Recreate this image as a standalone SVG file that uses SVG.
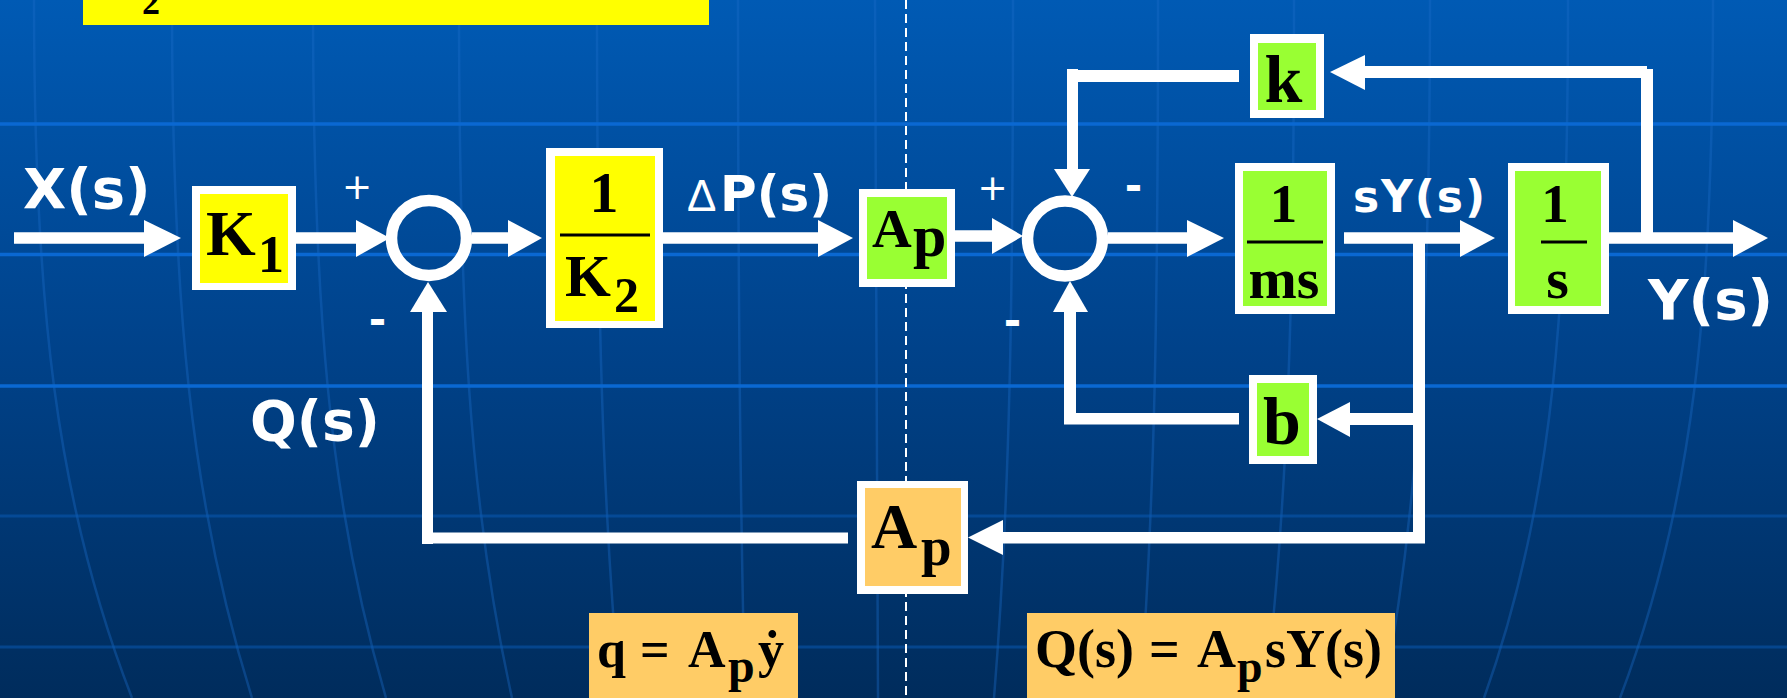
<svg xmlns="http://www.w3.org/2000/svg" width="1787" height="698" viewBox="0 0 1787 698">
<defs>
<linearGradient id="bg" x1="0" y1="0" x2="0" y2="1">
<stop offset="0" stop-color="#005ab4"/>
<stop offset="0.5" stop-color="#00428a"/>
<stop offset="1" stop-color="#002c5c"/>
</linearGradient>
<style>
.wire{fill:none;stroke:#fff;stroke-width:11.5}
.head{fill:#fff}
.frame{fill:#fff}
.yel{fill:#ffff00}
.grn{fill:#99ff33}
.org{fill:#ffcc66}
.bt{font-family:"Liberation Serif","Times New Roman",serif;font-weight:bold;fill:#000}
.lbl{font-family:"DejaVu Sans",Verdana,sans-serif;font-weight:bold;fill:#fff}
.sign{font-family:"DejaVu Sans",sans-serif;fill:#fff}
.mer{fill:none;stroke:#1a6cc8;stroke-opacity:0.38;stroke-width:2.5}
.hl{stroke:#0a68d2;stroke-width:3.5}
.hl2{stroke:#0a5cb8;stroke-opacity:0.5;stroke-width:3}
.sum{fill:none;stroke:#fff;stroke-width:11.5}
</style>
</defs>

<g id="background">
<rect x="0" y="0" width="1787" height="698" fill="url(#bg)"/>
<path class="mer" d="M34,0 C34,300 55,500 132,698"/>
<path class="mer" d="M172,0 C172,300 190,500 252,698"/>
<path class="mer" d="M313,0 C313,300 328,500 386,698"/>
<path class="mer" d="M459,0 C459,300 468,500 512,698"/>
<path class="mer" d="M597,0 C597,300 602,500 620,698"/>
<path class="mer" d="M738,0 C738,300 740,500 745,698"/>
<path class="mer" d="M875,0 C875,300 876,500 878,698"/>
<path class="mer" d="M1013,0 C1013,300 1010,500 994,698"/>
<path class="mer" d="M1158,0 C1158,300 1155,500 1140,698"/>
<path class="mer" d="M1294,0 C1294,300 1288,500 1265,698"/>
<path class="mer" d="M1430,0 C1430,300 1420,500 1383,698"/>
<path class="mer" d="M1568,0 C1568,300 1555,500 1484,698"/>
<path class="mer" d="M1713,0 C1713,300 1695,500 1620,698"/>
<line class="hl" x1="0" y1="124" x2="1787" y2="124"/>
<line class="hl" x1="0" y1="254.5" x2="1787" y2="254.5"/>
<line class="hl" x1="0" y1="386" x2="1787" y2="386"/>
<line class="hl2" x1="0" y1="516" x2="1787" y2="516"/>
<line class="hl2" x1="0" y1="647" x2="1787" y2="647"/>
<line x1="906" y1="0" x2="906" y2="698" stroke="#fff" stroke-width="2" stroke-dasharray="9 5"/>
</g>

<g id="top-equation">
<rect class="yel" x="83" y="0" width="626" height="25"/>
<text class="bt" x="142" y="14" font-size="36">2</text>
</g>

<g id="connectors">
<line class="wire" x1="14" y1="238" x2="148" y2="238"/>
<polygon class="head" points="144,220 181,238 144,257"/>
<line class="wire" x1="296" y1="238" x2="360" y2="238"/>
<polygon class="head" points="356,220 390,238 356,257"/>
<line class="wire" x1="472" y1="238" x2="512" y2="238"/>
<polygon class="head" points="508,220 542,238 508,257"/>
<line class="wire" x1="663" y1="238" x2="822" y2="238"/>
<polygon class="head" points="818,220 853,238 818,257"/>
<line class="wire" x1="955" y1="236" x2="996" y2="236"/>
<polygon class="head" points="992,218 1023,236 992,254"/>
<line class="wire" x1="1108" y1="238" x2="1191" y2="238"/>
<polygon class="head" points="1187,220 1224,238 1187,257"/>
<line class="wire" x1="1344" y1="238" x2="1464" y2="238"/>
<polygon class="head" points="1460,220 1495,238 1460,257"/>
<line class="wire" x1="1609" y1="238" x2="1737" y2="238"/>
<polygon class="head" points="1733,220 1768,238 1733,257"/>
<rect class="frame" x="1641" y="69" width="12" height="170"/>
<rect class="frame" x="1362" y="66" width="285" height="12"/>
<polygon class="head" points="1365,55 1330,72 1365,90"/>
<rect class="frame" x="1067" y="70" width="172" height="12"/>
<rect class="frame" x="1067" y="69" width="11" height="103"/>
<polygon class="head" points="1054,169 1090,169 1072,197"/>
<rect class="frame" x="1413" y="238" width="12" height="305"/>
<rect class="frame" x="1347" y="413" width="72" height="12"/>
<polygon class="head" points="1350,402 1317,419 1350,437"/>
<rect class="frame" x="1064" y="413" width="175" height="11.5"/>
<rect class="frame" x="1064" y="310" width="12" height="114"/>
<polygon class="head" points="1053,312 1070,281 1088,312"/>
<rect class="frame" x="1000" y="532" width="425" height="11.5"/>
<polygon class="head" points="1003,520 968,537.5 1003,555"/>
<rect class="frame" x="422" y="532.5" width="426" height="11"/>
<rect class="frame" x="422" y="310" width="11" height="234"/>
<polygon class="head" points="410,312 428,282 447,312"/>
</g>

<g id="sum1">
<circle class="sum" cx="429" cy="238" r="37.5"/>
<text class="sign" x="357" y="199" font-size="36" text-anchor="middle">+</text>
<text class="lbl" x="377.5" y="334" font-size="42" text-anchor="middle">-</text>
</g>

<g id="sum2">
<circle class="sum" cx="1065" cy="238.5" r="37.5"/>
<text class="sign" x="992.5" y="199.5" font-size="36" text-anchor="middle">+</text>
<text class="lbl" x="1133.5" y="200" font-size="42" text-anchor="middle">-</text>
<text class="lbl" x="1012.5" y="335" font-size="42" text-anchor="middle">-</text>
</g>

<g id="node-K1">
<rect class="frame" x="192" y="186" width="104" height="104"/>
<rect class="yel" x="200" y="194" width="88" height="89"/>
<text class="bt" x="206" y="255" font-size="64">K</text>
<text class="bt" x="258" y="272" font-size="52">1</text>
</g>

<g id="node-1-over-K2">
<rect class="frame" x="546" y="148" width="117" height="180"/>
<rect class="yel" x="555" y="156" width="100" height="165"/>
<text class="bt" x="604" y="212" font-size="58" text-anchor="middle">1</text>
<line x1="560" y1="235" x2="650" y2="235" stroke="#000" stroke-width="3"/>
<text class="bt" x="565" y="296" font-size="59">K</text>
<text class="bt" x="614" y="312" font-size="50">2</text>
</g>

<g id="node-Ap-top">
<rect class="frame" x="859" y="189" width="96" height="98"/>
<rect class="grn" x="867" y="197" width="80" height="82"/>
<text class="bt" x="872" y="247" font-size="55">A</text>
<text class="bt" x="913" y="256" font-size="60">p</text>
</g>

<g id="node-1-over-ms">
<rect class="frame" x="1235" y="163" width="100" height="151"/>
<rect class="grn" x="1243" y="171" width="84" height="135"/>
<text class="bt" x="1283.5" y="222" font-size="55" text-anchor="middle">1</text>
<line x1="1247" y1="242" x2="1323" y2="242" stroke="#000" stroke-width="3"/>
<text class="bt" x="1284" y="298" font-size="58" text-anchor="middle">ms</text>
</g>

<g id="node-1-over-s">
<rect class="frame" x="1508" y="163" width="101" height="151"/>
<rect class="grn" x="1515" y="171" width="86" height="135"/>
<text class="bt" x="1555" y="222" font-size="55" text-anchor="middle">1</text>
<line x1="1541" y1="242" x2="1587" y2="242" stroke="#000" stroke-width="3"/>
<text class="bt" x="1557.5" y="298" font-size="58" text-anchor="middle">s</text>
</g>

<g id="node-k">
<rect class="frame" x="1250" y="34" width="74" height="84"/>
<rect class="grn" x="1258" y="43" width="58" height="67"/>
<text class="bt" x="1283.5" y="102" font-size="68" text-anchor="middle">k</text>
</g>

<g id="node-b">
<rect class="frame" x="1249" y="375" width="68" height="89"/>
<rect class="grn" x="1257" y="383" width="52" height="73"/>
<text class="bt" x="1282" y="444" font-size="68" text-anchor="middle">b</text>
</g>

<g id="node-Ap-bottom">
<rect class="frame" x="857" y="481" width="111" height="113"/>
<rect class="org" x="865" y="488" width="96" height="98"/>
<text class="bt" x="871" y="548" font-size="64">A</text>
<text class="bt" x="921" y="565" font-size="55">p</text>
</g>

<g id="labels">
<text class="lbl" x="23" y="208" font-size="56">X(s)</text>
<text x="687" y="211" font-size="44" font-family="Liberation Sans, Arial, sans-serif" fill="#fff">Δ</text>
<text class="lbl" x="720" y="211" font-size="50">P(s)</text>
<text class="lbl" x="1353" y="212" font-size="44" textLength="132" lengthAdjust="spacing">sY(s)</text>
<text class="lbl" x="1648" y="319" font-size="56">Y(s)</text>
<text class="lbl" x="250" y="440" font-size="55">Q(s)</text>
</g>

<g id="eq-q">
<rect class="org" x="589" y="613" width="209" height="90"/>
<text class="bt" x="597" y="667" font-size="52">q</text>
<text class="bt" x="640" y="667" font-size="52">=</text>
<text class="bt" x="688" y="667" font-size="52">A</text>
<text class="bt" x="728" y="682" font-size="48">p</text>
<text class="bt" x="758" y="667" font-size="52">ẏ</text>
</g>

<g id="eq-Q">
<rect class="org" x="1027" y="613" width="368" height="90"/>
<text class="bt" x="1035" y="667" font-size="54">Q(s)</text>
<text class="bt" x="1149" y="667" font-size="54">=</text>
<text class="bt" x="1197" y="667" font-size="54">A</text>
<text class="bt" x="1237" y="682" font-size="46">p</text>
<text class="bt" x="1265" y="667" font-size="54">sY(s)</text>
</g>
</svg>
